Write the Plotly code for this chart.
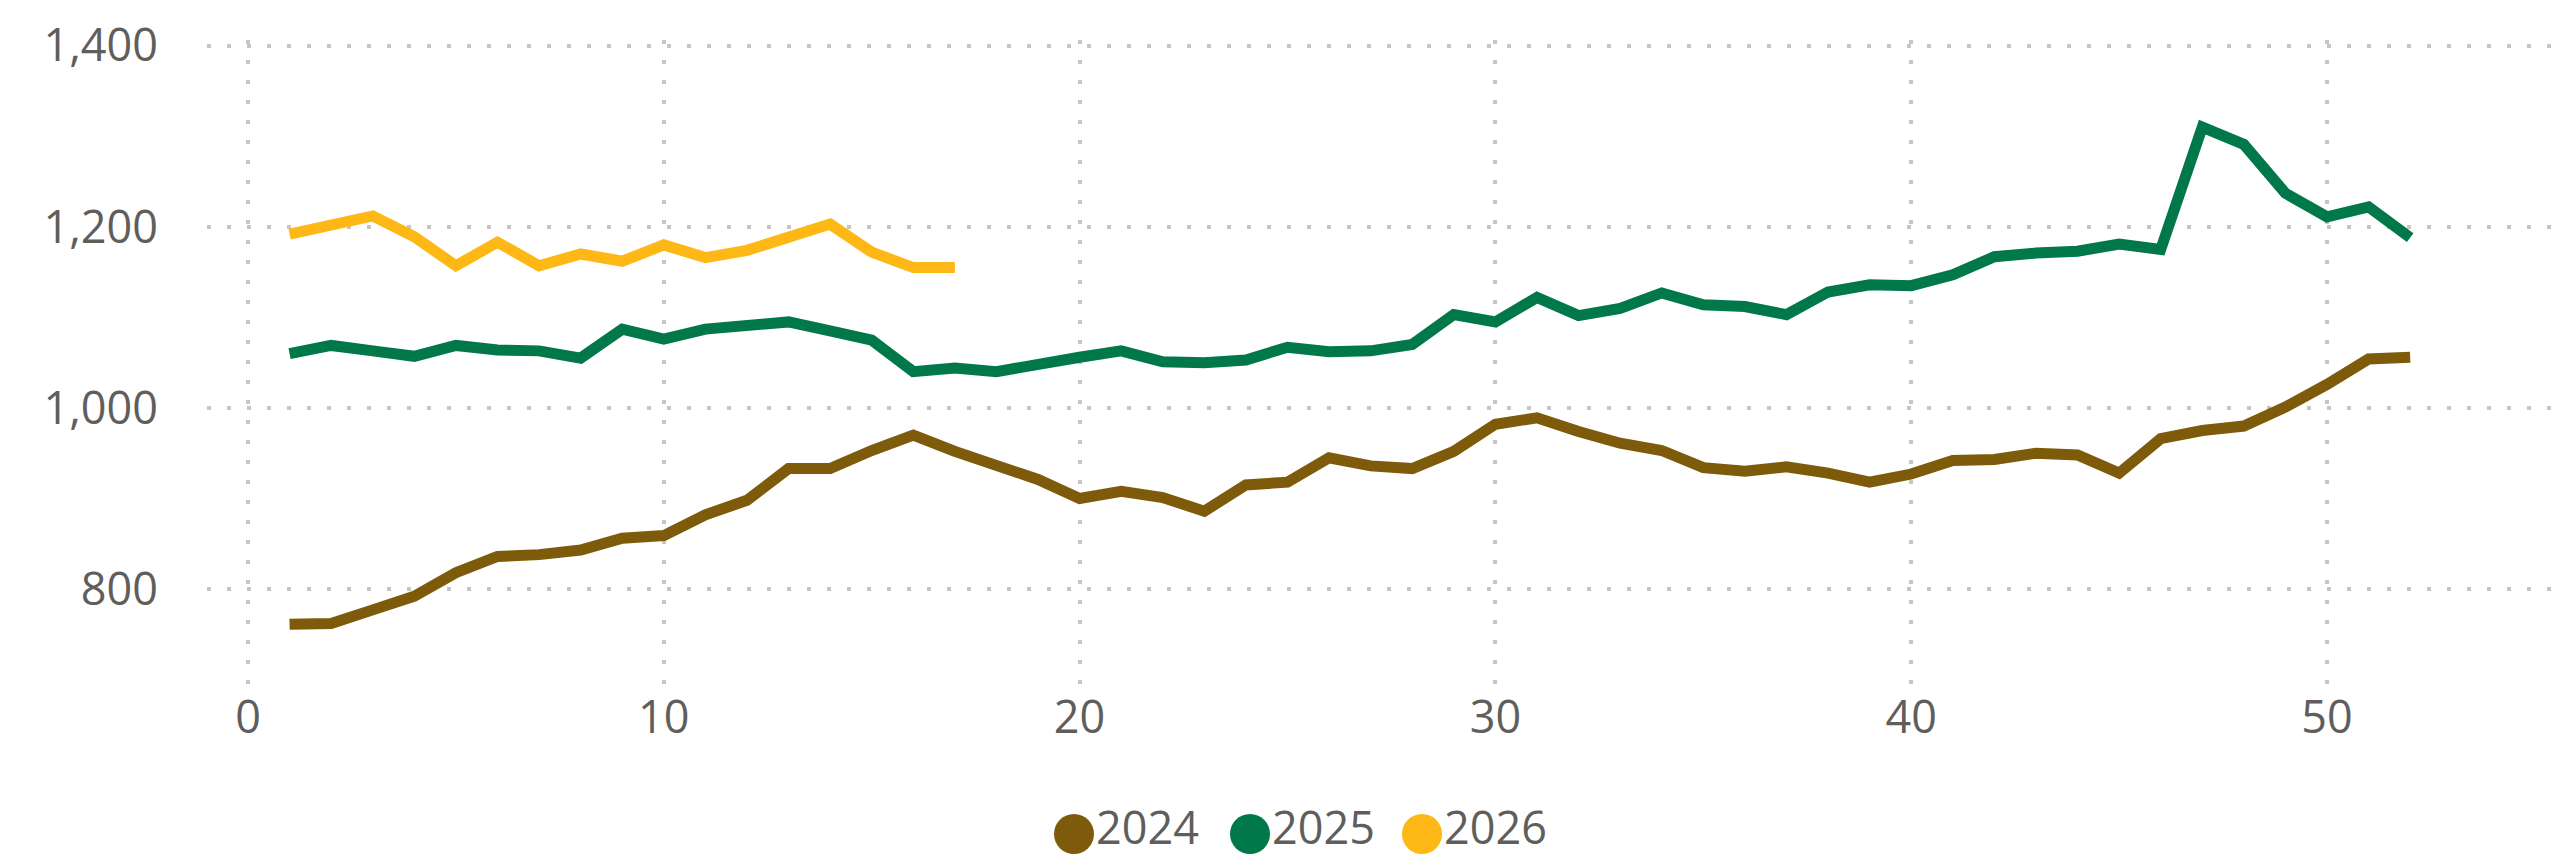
import plotly.graph_objects as go

weeks_2024 = list(range(1, 53))
values_2024 = [761, 762, 777, 792, 818, 836, 838, 843, 856, 859,
               882, 898, 933, 933, 953, 970, 952, 937, 921, 900,
               908, 901, 886, 915, 918, 945, 936, 933, 952, 982,
               989, 974, 961, 953, 934, 930, 935, 928, 918, 927,
               942, 943, 950, 948, 928, 966, 975, 980, 1001, 1026,
               1054, 1056]

weeks_2025 = list(range(1, 53))
values_2025 = [1060, 1069, 1063, 1057, 1069, 1064, 1063, 1055, 1087, 1076,
               1087, 1090, 1095, 1085, 1075, 1040, 1044, 1040, 1049, 1056,
               1063, 1051, 1050, 1053, 1067, 1062, 1063, 1070, 1103, 1095,
               1122, 1102, 1110, 1127, 1114, 1112, 1103, 1128, 1136, 1135,
               1147, 1167, 1171, 1173, 1181, 1175, 1310, 1291, 1237, 1211,
               1222, 1188]

weeks_2026 = list(range(1, 18))
values_2026 = [1192, 1203, 1212, 1189, 1157, 1183, 1157, 1170, 1162, 1180,
               1166, 1174, 1188, 1203, 1172, 1155, 1155]

series_names = ["2024", "2025", "2026"]
series_colors = ["#7D5B0A", "#00784A", "#FDB815"]

x_ticks = [0, 10, 20, 30, 40, 50]
y_ticks = [800, 1000, 1200, 1400]

FONT = "Segoe UI, Open Sans, sans-serif"
TXT = "#605E5C"
FS = 45

fig = go.Figure()
for name, xs, ys, col in zip(series_names,
                             [weeks_2024, weeks_2025, weeks_2026],
                             [values_2024, values_2025, values_2026],
                             series_colors):
    fig.add_trace(go.Scatter(x=xs, y=ys, mode="lines", name=name,
                             line=dict(color=col, width=11),
                             showlegend=False, hoverinfo="x+y+name"))

W, H = 2561, 854
ml, mr, mt, mb = 199, 0, 32, 172
pw, ph = W - ml - mr, H - mt - mb

# custom legend: big circles + text, positioned in pixels -> paper coords
legend_cy = 826
legend_items_x = [1066, 1242, 1414]
shapes = []
annotations = []
for name, col, cx in zip(series_names, series_colors, legend_items_x):
    px = (cx - ml) / pw
    py = (H - mb - legend_cy) / ph
    shapes.append(dict(type="circle", xref="paper", yref="paper",
                       xsizemode="pixel", ysizemode="pixel",
                       xanchor=px, yanchor=py,
                       x0=-20, x1=20, y0=-20, y1=20,
                       fillcolor=col, line=dict(width=0)))
    annotations.append(dict(text=name, xref="paper", yref="paper",
                            x=(cx + 21 - ml) / pw, y=py,
                            xanchor="left", yanchor="middle",
                            yshift=8, borderpad=0,
                            showarrow=False,
                            font=dict(family=FONT, size=FS, color=TXT)))

fig.update_layout(
    width=W, height=H,
    margin=dict(l=ml, r=mr, t=mt, b=mb),
    paper_bgcolor="white", plot_bgcolor="white",
    font=dict(family=FONT, size=FS, color=TXT),
    shapes=shapes, annotations=annotations,
    showlegend=False,
)
fig.update_xaxes(range=[-0.986, 55.82], tickvals=x_ticks,
                 showgrid=True, gridcolor="#C8C6C4", gridwidth=4,
                 griddash="4px,16px", zeroline=False, showline=False,
                 ticks="", ticklabelstandoff=-3,
                 tickfont=dict(family=FONT, size=FS, color=TXT))
fig.update_yaxes(range=[688.5, 1406.3], tickvals=y_ticks, tickformat=",",
                 showgrid=True, gridcolor="#C8C6C4", gridwidth=4,
                 griddash="4px,16px", zeroline=False, showline=False,
                 ticks="", ticklabelstandoff=48,
                 tickfont=dict(family=FONT, size=FS, color=TXT))

fig.write_html("out.html")
